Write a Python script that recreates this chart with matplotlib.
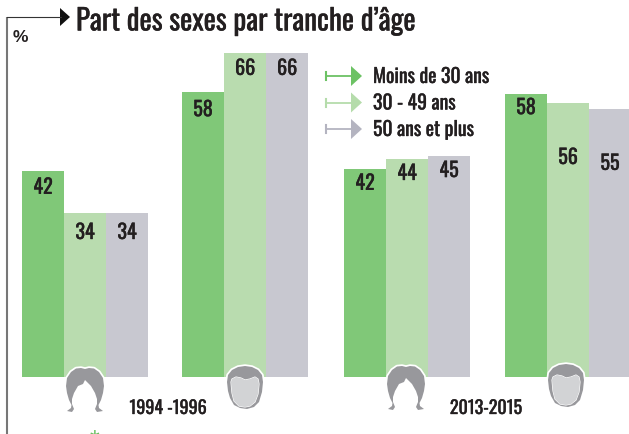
import matplotlib
matplotlib.use("Agg")
import matplotlib.pyplot as plt
import matplotlib.patheffects as pe
from matplotlib.patches import Polygon

# values printed on the chart
moins_30 = [42, 58, 42, 58]
de_30_49 = [34, 66, 44, 56]
plus_50 = [34, 66, 45, 55]
# bar heights measured on the picture (drawn slightly off the printed numbers)
moins_30_h = [42, 58, 42.4, 57.6]
de_30_49_h = [33.4, 66, 44.4, 55.8]
plus_50_h = [33.4, 66, 45, 54.6]
series_names = ["Moins de 30 ans", "30 - 49 ans", "50 ans et plus"]
period_labels = ["1994 -1996", "2013-2015"]
title = "Part des sexes par tranche d\u2019âge"

colors = ["#80c878", "#b9dcaf", "#c8c8d0"]
arrow_colors = ["#6cc264", "#b5dcab", "#b4b4c0"]
group_left = [22, 182, 344, 505]
bar_w = 42
# how far each number hangs under its bar top, in pixels
drops = [[16, 17, 14, 13], [19, 15, 14, 54], [19, 15, 14, 54]]
font = ["Oswald", "Liberation Sans"]
txt = "#231f20"
heavy = [pe.withStroke(linewidth=0.25, foreground=txt)]

fig = plt.figure(figsize=(6.29, 4.34), dpi=100)
ax = fig.add_axes([0, 0, 1, 1])
ax.set_xlim(0, 629)
ax.set_ylim(-57 / 4.91, 377 / 4.91)
ax.axis("off")

px = fig.add_axes([0, 0, 1, 1])
px.set_xlim(0, 629)
px.set_ylim(434, 0)
px.axis("off")
px.patch.set_alpha(0)

for i, (vals, heights) in enumerate(zip([moins_30, de_30_49, plus_50],
                                        [moins_30_h, de_30_49_h, plus_50_h])):
    xs = [g + bar_w * i for g in group_left]
    ax.bar(xs, heights, width=bar_w, align="edge", color=colors[i], linewidth=0)
    for x, v, h, d in zip(xs, vals, heights, drops[i]):
        ax.annotate(str(v), (x + bar_w / 2, h), xytext=(0, -d * 0.72), textcoords="offset points",
                    ha="center", va="center", family=font, fontsize=14.5, color=txt,
                    path_effects=heavy)

# frame with title arrow
px.plot([7, 7], [17, 434], color="#777777", lw=1.5, solid_capstyle="butt")
px.plot([7, 61], [17, 17], color="#333333", lw=0.8)
px.add_patch(Polygon([(60, 8), (70, 17), (60, 26)], color="#111111", lw=0))
px.text(76, 21, title, family=font, fontsize=20.9, color=txt, ha="left", va="center",
        path_effects=heavy)
px.text(13, 37, "%", family=["Liberation Sans"], fontsize=12.5, fontweight="bold", color=txt,
        ha="left", va="center")

# legend
for i, name in enumerate(series_names):
    y = 76 + i * 26.5
    px.plot([326, 352], [y, y], color=arrow_colors[i], lw=1.3)
    px.plot([326, 326], [y - 4, y + 4], color=arrow_colors[i], lw=1.5)
    px.add_patch(Polygon([(351, y - 10), (362, y), (351, y + 10)],
                         color=arrow_colors[i], lw=0))
    px.text(373, y, name, family=font, fontsize=14.2, color=txt, ha="left", va="center",
            path_effects=heavy)

px.text(168, 408, period_labels[0], family=font, fontsize=13, color=txt, ha="center", va="center",
        path_effects=heavy)
px.text(486, 408, period_labels[1], family=font, fontsize=13, color=txt, ha="center", va="center",
        path_effects=heavy)
px.text(94, 441, "*", family=["Liberation Sans"], fontsize=18, color="#6cc264", ha="center", va="center")


def shape(pts, dx, dy, fill, halo):
    moved = [(x + dx, y + dy) for x, y in pts]
    if halo:
        px.add_patch(Polygon(moved, facecolor="white", edgecolor="white", lw=halo, joinstyle="round"))
    px.add_patch(Polygon(moved, facecolor=fill, edgecolor="none", lw=0))


def woman(dx, dy):
    hair = [(66, 386), (67, 378), (71, 372), (76, 368.5), (81, 368), (85, 369), (89, 368),
            (94, 368.5), (99, 372), (103, 378), (104, 386), (103, 393), (101, 400), (98.5, 405),
            (99, 408), (103, 411), (97, 412), (95, 409), (97, 404), (97, 399), (95, 393),
            (91, 386), (85, 380), (83, 384), (78, 386), (74, 393), (72, 399), (72, 404),
            (74, 409), (72, 412), (67, 411), (71, 408), (71.5, 405), (69, 400), (67, 393)]
    shape(hair[:11], dx, dy, "white", 2.5)
    shape(hair, dx, dy, "#98989c", 0)


def man(dx, dy):
    hair = [(227, 382), (228, 375), (232, 370), (238, 367), (245, 366), (252, 367), (258, 370),
            (262, 375), (263, 382), (262, 392), (259, 402), (254, 407), (247, 409), (240, 408),
            (234, 405), (230, 398), (228, 391)]
    face = [(231, 382), (232, 379), (236, 377), (241, 378), (245, 380), (250, 379), (255, 377),
            (258, 379), (259, 384), (258, 394), (255, 402), (250, 406), (245, 407), (239, 406),
            (234, 401), (232, 393)]
    shape(hair, dx, dy, "#98989c", 2.5)
    shape(face, dx, dy, "#d2d3d5", 0.8)


woman(0, 0)
man(0, 0)
woman(321, -2)
man(321, -2)

fig.savefig("out.png", dpi=100)
